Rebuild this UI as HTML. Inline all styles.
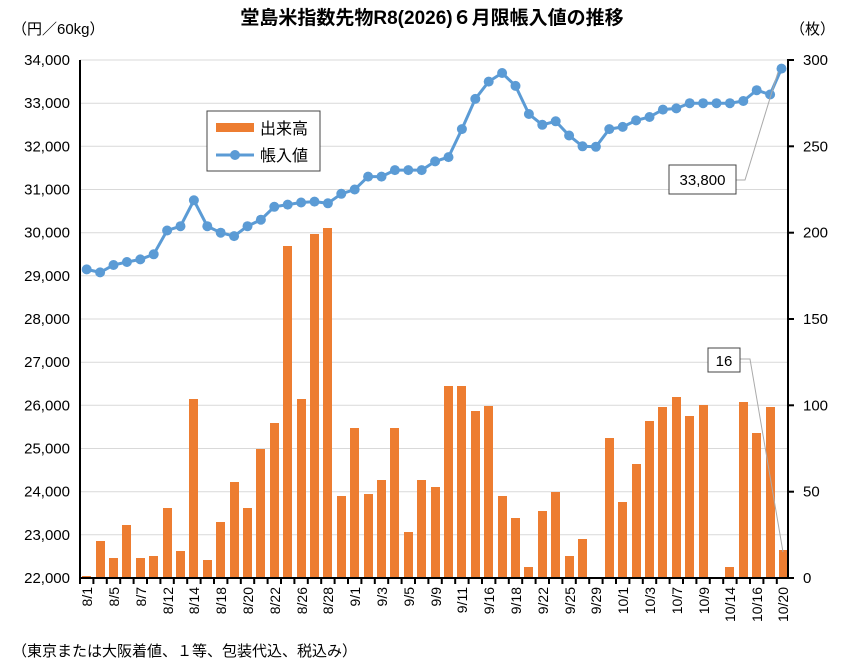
<!DOCTYPE html>
<html><head><meta charset="utf-8"><style>
html,body{margin:0;padding:0;background:#fff;}
svg{display:block;font-family:"Liberation Sans","Noto Sans CJK JP",sans-serif;}
</style></head><body>
<svg width="848" height="665" viewBox="0 0 848 665" xmlns="http://www.w3.org/2000/svg">
<rect width="848" height="665" fill="#fff"/>
<text x="432" y="24" text-anchor="middle" font-size="19" font-weight="bold">堂島米指数先物R8(2026)６月限帳入値の推移</text>
<text x="12" y="34" font-size="15">（円／60kg）</text>
<text x="790" y="34" font-size="15">（枚）</text>
<text x="12" y="656" font-size="15">（東京または大阪着値、１等、包装代込、税込み）</text>
<!-- gridlines -->
<g stroke="#d9d9d9" stroke-width="1">
<line x1="80" y1="60" x2="788" y2="60"/><line x1="80" y1="103.2" x2="788" y2="103.2"/><line x1="80" y1="146.3" x2="788" y2="146.3"/><line x1="80" y1="189.5" x2="788" y2="189.5"/><line x1="80" y1="232.7" x2="788" y2="232.7"/><line x1="80" y1="275.8" x2="788" y2="275.8"/><line x1="80" y1="319" x2="788" y2="319"/><line x1="80" y1="362.2" x2="788" y2="362.2"/><line x1="80" y1="405.3" x2="788" y2="405.3"/><line x1="80" y1="448.5" x2="788" y2="448.5"/><line x1="80" y1="491.7" x2="788" y2="491.7"/><line x1="80" y1="534.8" x2="788" y2="534.8"/>
</g>
<g font-size="15" text-anchor="end">
<text x="70" y="65">34,000</text><text x="70" y="108.2">33,000</text><text x="70" y="151.3">32,000</text><text x="70" y="194.5">31,000</text><text x="70" y="237.7">30,000</text><text x="70" y="280.8">29,000</text><text x="70" y="324">28,000</text><text x="70" y="367.2">27,000</text><text x="70" y="410.3">26,000</text><text x="70" y="453.5">25,000</text><text x="70" y="496.7">24,000</text><text x="70" y="539.8">23,000</text><text x="70" y="583">22,000</text>
</g>
<g font-size="15" text-anchor="start">
<text x="803" y="65">300</text><text x="803" y="151.3">250</text><text x="803" y="237.7">200</text><text x="803" y="324">150</text><text x="803" y="410.3">100</text><text x="803" y="496.7">50</text><text x="803" y="583">0</text>
</g>
<!-- bars -->
<g fill="#ED7D31">
<rect x="82" y="576" width="9" height="2"/>
<rect x="96" y="541" width="9" height="37"/>
<rect x="109" y="558" width="9" height="20"/>
<rect x="122" y="525" width="9" height="53"/>
<rect x="136" y="558" width="9" height="20"/>
<rect x="149" y="556" width="9" height="22"/>
<rect x="163" y="508" width="9" height="70"/>
<rect x="176" y="551" width="9" height="27"/>
<rect x="189" y="399" width="9" height="179"/>
<rect x="203" y="560" width="9" height="18"/>
<rect x="216" y="522" width="9" height="56"/>
<rect x="230" y="482" width="9" height="96"/>
<rect x="243" y="508" width="9" height="70"/>
<rect x="256" y="449" width="9" height="129"/>
<rect x="270" y="423" width="9" height="155"/>
<rect x="283" y="246" width="9" height="332"/>
<rect x="297" y="399" width="9" height="179"/>
<rect x="310" y="234" width="9" height="344"/>
<rect x="323" y="228" width="9" height="350"/>
<rect x="337" y="496" width="9" height="82"/>
<rect x="350" y="428" width="9" height="150"/>
<rect x="364" y="494" width="9" height="84"/>
<rect x="377" y="480" width="9" height="98"/>
<rect x="390" y="428" width="9" height="150"/>
<rect x="404" y="532" width="9" height="46"/>
<rect x="417" y="480" width="9" height="98"/>
<rect x="431" y="487" width="9" height="91"/>
<rect x="444" y="386" width="9" height="192"/>
<rect x="457" y="386" width="9" height="192"/>
<rect x="471" y="411" width="9" height="167"/>
<rect x="484" y="406" width="9" height="172"/>
<rect x="498" y="496" width="9" height="82"/>
<rect x="511" y="518" width="9" height="60"/>
<rect x="524" y="567" width="9" height="11"/>
<rect x="538" y="511" width="9" height="67"/>
<rect x="551" y="492" width="9" height="86"/>
<rect x="565" y="556" width="9" height="22"/>
<rect x="578" y="539" width="9" height="39"/>
<rect x="605" y="438" width="9" height="140"/>
<rect x="618" y="502" width="9" height="76"/>
<rect x="632" y="464" width="9" height="114"/>
<rect x="645" y="421" width="9" height="157"/>
<rect x="658" y="407" width="9" height="171"/>
<rect x="672" y="397" width="9" height="181"/>
<rect x="685" y="416" width="9" height="162"/>
<rect x="699" y="405" width="9" height="173"/>
<rect x="725" y="567" width="9" height="11"/>
<rect x="739" y="402" width="9" height="176"/>
<rect x="752" y="433" width="9" height="145"/>
<rect x="766" y="407" width="9" height="171"/>
<rect x="779" y="550" width="9" height="28"/>
</g>
<!-- axes -->
<g stroke="#000" stroke-width="2" fill="none">
<line x1="80" y1="60" x2="80" y2="579"/>
<line x1="788" y1="59" x2="788" y2="579"/>
<line x1="79" y1="578" x2="789" y2="578"/>
</g>
<g stroke="#000" stroke-width="2">
<line x1="788" y1="60" x2="794" y2="60"/><line x1="788" y1="146.3" x2="794" y2="146.3"/><line x1="788" y1="232.7" x2="794" y2="232.7"/><line x1="788" y1="319" x2="794" y2="319"/><line x1="788" y1="405.3" x2="794" y2="405.3"/><line x1="788" y1="491.7" x2="794" y2="491.7"/><line x1="788" y1="578" x2="794" y2="578"/>
</g>
<g stroke="#000" stroke-width="2">
<line x1="80" y1="578" x2="80" y2="584"/><line x1="93.4" y1="578" x2="93.4" y2="584"/><line x1="106.8" y1="578" x2="106.8" y2="584"/><line x1="120.2" y1="578" x2="120.2" y2="584"/><line x1="133.6" y1="578" x2="133.6" y2="584"/><line x1="147" y1="578" x2="147" y2="584"/><line x1="160.4" y1="578" x2="160.4" y2="584"/><line x1="173.8" y1="578" x2="173.8" y2="584"/><line x1="187.2" y1="578" x2="187.2" y2="584"/><line x1="200.6" y1="578" x2="200.6" y2="584"/><line x1="214" y1="578" x2="214" y2="584"/><line x1="227.4" y1="578" x2="227.4" y2="584"/><line x1="240.8" y1="578" x2="240.8" y2="584"/><line x1="254.2" y1="578" x2="254.2" y2="584"/><line x1="267.6" y1="578" x2="267.6" y2="584"/><line x1="281" y1="578" x2="281" y2="584"/><line x1="294.4" y1="578" x2="294.4" y2="584"/><line x1="307.8" y1="578" x2="307.8" y2="584"/><line x1="321.2" y1="578" x2="321.2" y2="584"/><line x1="334.6" y1="578" x2="334.6" y2="584"/><line x1="348" y1="578" x2="348" y2="584"/><line x1="361.4" y1="578" x2="361.4" y2="584"/><line x1="374.8" y1="578" x2="374.8" y2="584"/><line x1="388.2" y1="578" x2="388.2" y2="584"/><line x1="401.6" y1="578" x2="401.6" y2="584"/><line x1="415" y1="578" x2="415" y2="584"/><line x1="428.4" y1="578" x2="428.4" y2="584"/><line x1="441.8" y1="578" x2="441.8" y2="584"/><line x1="455.2" y1="578" x2="455.2" y2="584"/><line x1="468.6" y1="578" x2="468.6" y2="584"/><line x1="482" y1="578" x2="482" y2="584"/><line x1="495.4" y1="578" x2="495.4" y2="584"/><line x1="508.8" y1="578" x2="508.8" y2="584"/><line x1="522.2" y1="578" x2="522.2" y2="584"/><line x1="535.6" y1="578" x2="535.6" y2="584"/><line x1="549" y1="578" x2="549" y2="584"/><line x1="562.4" y1="578" x2="562.4" y2="584"/><line x1="575.8" y1="578" x2="575.8" y2="584"/><line x1="589.2" y1="578" x2="589.2" y2="584"/><line x1="602.6" y1="578" x2="602.6" y2="584"/><line x1="616" y1="578" x2="616" y2="584"/><line x1="629.4" y1="578" x2="629.4" y2="584"/><line x1="642.8" y1="578" x2="642.8" y2="584"/><line x1="656.2" y1="578" x2="656.2" y2="584"/><line x1="669.6" y1="578" x2="669.6" y2="584"/><line x1="683" y1="578" x2="683" y2="584"/><line x1="696.4" y1="578" x2="696.4" y2="584"/><line x1="709.8" y1="578" x2="709.8" y2="584"/><line x1="723.2" y1="578" x2="723.2" y2="584"/><line x1="736.6" y1="578" x2="736.6" y2="584"/><line x1="750" y1="578" x2="750" y2="584"/><line x1="763.4" y1="578" x2="763.4" y2="584"/><line x1="776.8" y1="578" x2="776.8" y2="584"/>
</g>
<!-- line -->
<polyline fill="none" stroke="#5B9BD5" stroke-width="3" points="86.7,269.4 100.1,272.4 113.5,265 126.9,262 140.3,259.4 153.7,254.3 167.1,230.5 180.5,226.2 193.9,200.3 207.3,226.2 220.7,232.7 234.1,236.1 247.5,226.2 260.9,219.7 274.3,206.8 287.7,204.6 301.1,202.5 314.5,201.6 327.9,203.3 341.3,193.8 354.7,189.5 368.1,176.6 381.5,176.6 394.9,170.1 408.3,170.1 421.7,170.1 435.1,161.4 448.5,157.1 461.9,129.1 475.3,98.9 488.7,81.6 502.1,73 515.5,85.9 528.9,114 542.3,124.8 555.7,121.3 569.1,135.5 582.5,146.3 595.9,146.8 609.3,129.1 622.7,126.9 636.1,120.4 649.5,117 662.9,109.6 676.3,108.4 689.7,103.2 703.1,103.2 716.5,103.2 729.9,103.2 743.3,101 756.7,90.2 770.1,94.5 781.5,68.6"/>
<g fill="#5B9BD5">
<circle cx="86.7" cy="269.4" r="5"/><circle cx="100.1" cy="272.4" r="5"/><circle cx="113.5" cy="265" r="5"/><circle cx="126.9" cy="262" r="5"/><circle cx="140.3" cy="259.4" r="5"/><circle cx="153.7" cy="254.3" r="5"/><circle cx="167.1" cy="230.5" r="5"/><circle cx="180.5" cy="226.2" r="5"/><circle cx="193.9" cy="200.3" r="5"/><circle cx="207.3" cy="226.2" r="5"/><circle cx="220.7" cy="232.7" r="5"/><circle cx="234.1" cy="236.1" r="5"/><circle cx="247.5" cy="226.2" r="5"/><circle cx="260.9" cy="219.7" r="5"/><circle cx="274.3" cy="206.8" r="5"/><circle cx="287.7" cy="204.6" r="5"/><circle cx="301.1" cy="202.5" r="5"/><circle cx="314.5" cy="201.6" r="5"/><circle cx="327.9" cy="203.3" r="5"/><circle cx="341.3" cy="193.8" r="5"/><circle cx="354.7" cy="189.5" r="5"/><circle cx="368.1" cy="176.6" r="5"/><circle cx="381.5" cy="176.6" r="5"/><circle cx="394.9" cy="170.1" r="5"/><circle cx="408.3" cy="170.1" r="5"/><circle cx="421.7" cy="170.1" r="5"/><circle cx="435.1" cy="161.4" r="5"/><circle cx="448.5" cy="157.1" r="5"/><circle cx="461.9" cy="129.1" r="5"/><circle cx="475.3" cy="98.9" r="5"/><circle cx="488.7" cy="81.6" r="5"/><circle cx="502.1" cy="73" r="5"/><circle cx="515.5" cy="85.9" r="5"/><circle cx="528.9" cy="114" r="5"/><circle cx="542.3" cy="124.8" r="5"/><circle cx="555.7" cy="121.3" r="5"/><circle cx="569.1" cy="135.5" r="5"/><circle cx="582.5" cy="146.3" r="5"/><circle cx="595.9" cy="146.8" r="5"/><circle cx="609.3" cy="129.1" r="5"/><circle cx="622.7" cy="126.9" r="5"/><circle cx="636.1" cy="120.4" r="5"/><circle cx="649.5" cy="117" r="5"/><circle cx="662.9" cy="109.6" r="5"/><circle cx="676.3" cy="108.4" r="5"/><circle cx="689.7" cy="103.2" r="5"/><circle cx="703.1" cy="103.2" r="5"/><circle cx="716.5" cy="103.2" r="5"/><circle cx="729.9" cy="103.2" r="5"/><circle cx="743.3" cy="101" r="5"/><circle cx="756.7" cy="90.2" r="5"/><circle cx="770.1" cy="94.5" r="5"/><circle cx="781.5" cy="68.6" r="5"/>
</g>
<!-- x labels -->
<g font-size="14" text-anchor="end">
<text transform="translate(92,587) rotate(-90)">8/1</text>
<text transform="translate(119,587) rotate(-90)">8/5</text>
<text transform="translate(146,587) rotate(-90)">8/7</text>
<text transform="translate(173,587) rotate(-90)">8/12</text>
<text transform="translate(199,587) rotate(-90)">8/14</text>
<text transform="translate(226,587) rotate(-90)">8/18</text>
<text transform="translate(253,587) rotate(-90)">8/20</text>
<text transform="translate(280,587) rotate(-90)">8/22</text>
<text transform="translate(307,587) rotate(-90)">8/26</text>
<text transform="translate(333,587) rotate(-90)">8/28</text>
<text transform="translate(360,587) rotate(-90)">9/1</text>
<text transform="translate(387,587) rotate(-90)">9/3</text>
<text transform="translate(414,587) rotate(-90)">9/5</text>
<text transform="translate(441,587) rotate(-90)">9/9</text>
<text transform="translate(467,587) rotate(-90)">9/11</text>
<text transform="translate(494,587) rotate(-90)">9/16</text>
<text transform="translate(521,587) rotate(-90)">9/18</text>
<text transform="translate(548,587) rotate(-90)">9/22</text>
<text transform="translate(575,587) rotate(-90)">9/25</text>
<text transform="translate(601,587) rotate(-90)">9/29</text>
<text transform="translate(628,587) rotate(-90)">10/1</text>
<text transform="translate(655,587) rotate(-90)">10/3</text>
<text transform="translate(682,587) rotate(-90)">10/7</text>
<text transform="translate(709,587) rotate(-90)">10/9</text>
<text transform="translate(735,587) rotate(-90)">10/14</text>
<text transform="translate(762,587) rotate(-90)">10/16</text>
<text transform="translate(788,587) rotate(-90)">10/20</text>
</g>
<!-- legend -->
<rect x="207" y="111" width="113" height="60" fill="#fff" stroke="#444" stroke-width="1"/>
<rect x="216" y="123" width="38" height="9" fill="#ED7D31"/>
<text x="260" y="134" font-size="16">出来高</text>
<line x1="216" y1="155" x2="254" y2="155" stroke="#5B9BD5" stroke-width="3"/>
<circle cx="235" cy="155" r="5" fill="#5B9BD5"/>
<text x="260" y="161" font-size="16">帳入値</text>
<!-- callouts -->
<polyline points="736,180 745,180 778,72" fill="none" stroke="#aaa"/>
<rect x="669" y="165" width="67" height="29" fill="#fff" stroke="#444"/>
<text x="702.5" y="185" font-size="15" text-anchor="middle">33,800</text>
<polyline points="740,359 750,359 783,552" fill="none" stroke="#aaa"/>
<rect x="708" y="348" width="32" height="24" fill="#fff" stroke="#444"/>
<text x="724" y="366" font-size="15" text-anchor="middle">16</text>
</svg>
</body></html>
